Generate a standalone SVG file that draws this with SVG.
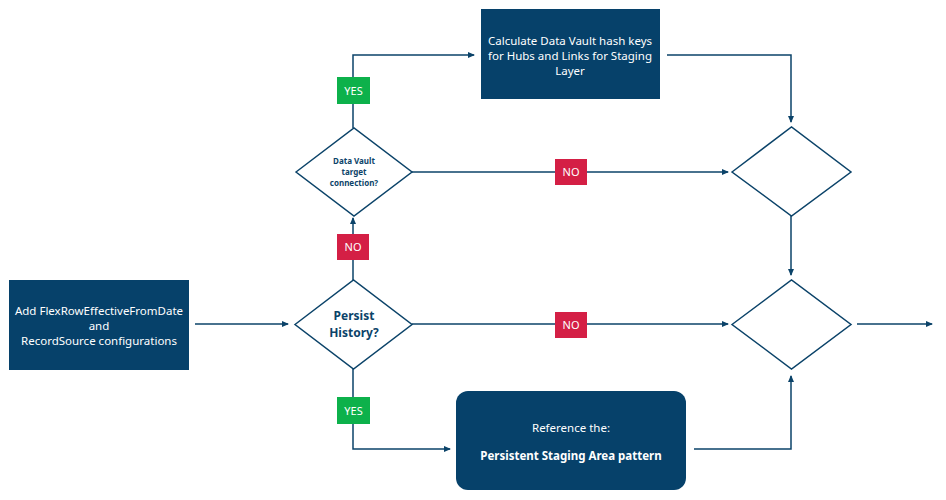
<svg xmlns="http://www.w3.org/2000/svg" width="946" height="500" viewBox="0 0 946 500">
<defs>
<marker id="ah" markerWidth="8" markerHeight="8" refX="6" refY="4" orient="auto" markerUnits="userSpaceOnUse"><path d="M0,1 L7,4 L0,7 z" fill="#0b4369"/></marker>
<style>
.box{fill:#06416a}
.dia{fill:#fff;stroke:#0b4369;stroke-width:1.5}
.ln{fill:none;stroke:#0b4369;stroke-width:1.5;marker-end:url(#ah)}
.wt{fill:#fff;font-family:"Noto Sans","Open Sans",sans-serif;font-size:11.5px;text-anchor:middle}
.dt{fill:#0b4369;font-family:"Noto Sans","Open Sans",sans-serif;font-weight:bold;text-anchor:middle}
.yes{fill:#0db14b}.no{fill:#d41f45}
.lt{fill:#fff;font-family:"Noto Sans","Open Sans",sans-serif;font-size:11px;text-anchor:middle}
</style>
</defs>
<rect width="946" height="500" fill="#fff"/>
<g id="connectors">
<path class="ln" d="M195,324 H288"/>
<path class="ln" d="M353,280 V218"/>
<path class="ln" d="M353,128 V55 H474"/>
<path class="ln" d="M412,172 H728"/>
<path class="ln" d="M412,324 H728"/>
<path class="ln" d="M667,55 H791 V122"/>
<path class="ln" d="M791,216 V275"/>
<path class="ln" d="M857,324 H932"/>
<path class="ln" d="M353,369 V449 H450"/>
<path class="ln" d="M694,449 H791 V376"/>
</g>
<g id="n1"><rect class="box" x="9" y="280" width="180" height="90"/>
<text class="wt" x="99" y="315">Add FlexRowEffectiveFromDate</text><text class="wt" x="99" y="330">and</text><text class="wt" x="99" y="345">RecordSource configurations</text></g>
<g id="n2"><polygon class="dia" points="295,324.5 353.5,280 412,324.5 353.5,369"/>
<text class="dt" font-size="12" x="354" y="320">Persist</text><text class="dt" font-size="12" x="354" y="337">History?</text></g>
<g id="n3"><polygon class="dia" points="296,172 354,128 412,172 354,216"/>
<text class="dt" font-size="8" x="354" y="164">Data Vault</text><text class="dt" font-size="8" x="354" y="175">target</text><text class="dt" font-size="8" x="354" y="186">connection?</text></g>
<g id="n4"><rect class="box" x="481" y="9" width="179" height="90"/>
<text class="wt" x="570" y="45">Calculate Data Vault hash keys</text><text class="wt" x="570" y="60">for Hubs and Links for Staging</text><text class="wt" x="570" y="75">Layer</text></g>
<g id="n5"><polygon class="dia" points="732,172 791.5,127 851,172 791.5,216"/></g>
<g id="n6"><polygon class="dia" points="732,324.5 791.5,280 851,324.5 791.5,369"/></g>
<g id="n7"><rect class="box" x="456" y="391" width="230" height="99" rx="12"/>
<text class="wt" x="571" y="432" font-size="11">Reference the:</text><text class="wt" x="571" y="460" font-size="11" font-weight="bold">Persistent Staging Area pattern</text></g>
<g id="labels">
<rect class="yes" x="337" y="77" width="33" height="27"/><text class="lt" x="353.5" y="95">YES</text>
<rect class="no" x="337" y="234" width="32" height="26"/><text class="lt" x="353" y="251">NO</text>
<rect class="no" x="555" y="159" width="32" height="26"/><text class="lt" x="571" y="176">NO</text>
<rect class="no" x="555" y="312" width="32" height="26"/><text class="lt" x="571" y="329">NO</text>
<rect class="yes" x="337" y="397" width="33" height="27"/><text class="lt" x="353.5" y="415">YES</text>
</g>
</svg>
